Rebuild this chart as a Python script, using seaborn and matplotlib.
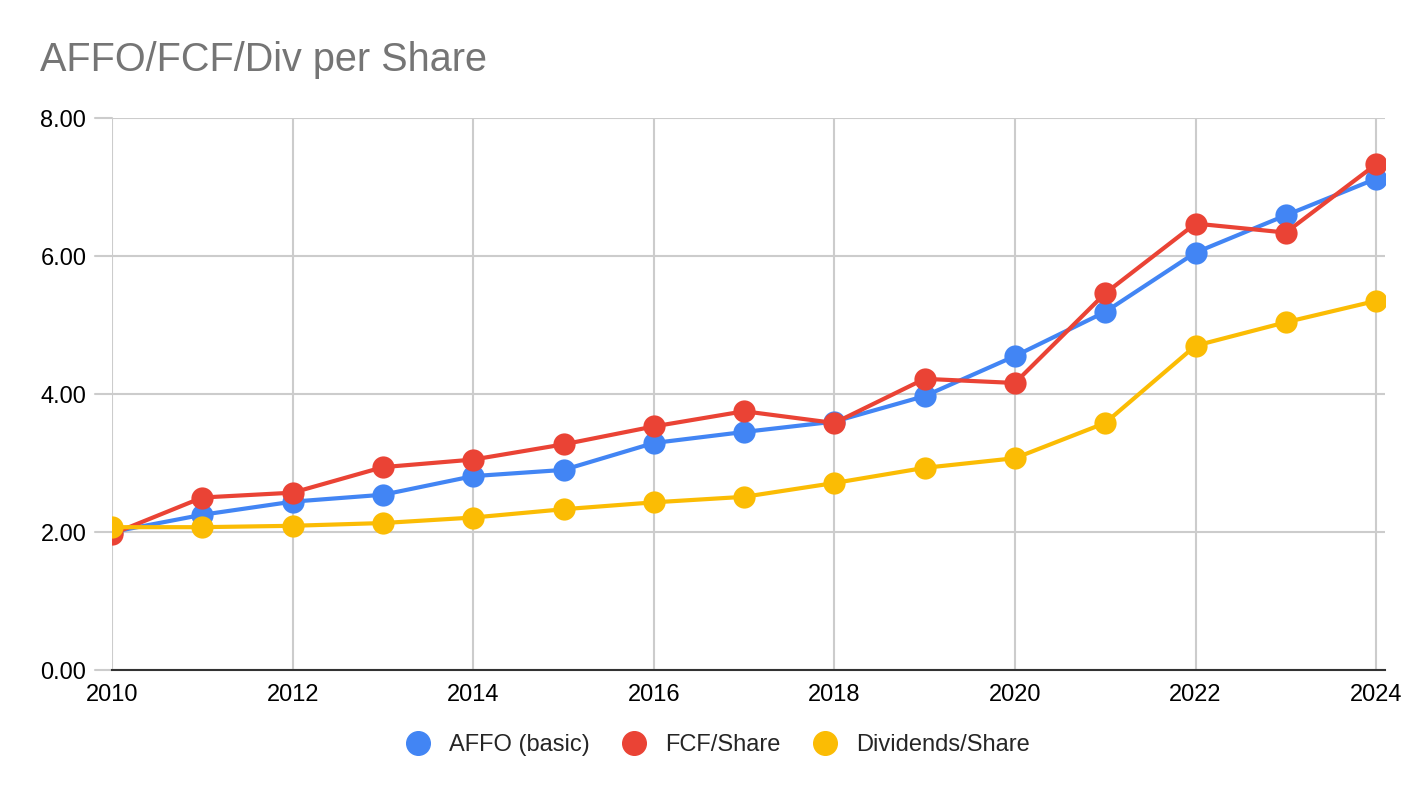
import pandas as pd
import numpy as np
import matplotlib.pyplot as plt
import seaborn as sns
from matplotlib.lines import Line2D

# valores
anos = list(range(2010, 2025))
affo = [2.00, 2.25, 2.44, 2.54, 2.81, 2.90, 3.29, 3.45, 3.60, 3.97, 4.55, 5.19, 6.05, 6.59, 7.12]
fcf = [1.97, 2.50, 2.57, 2.94, 3.05, 3.27, 3.53, 3.75, 3.58, 4.22, 4.16, 5.46, 6.47, 6.34, 7.33]
dividendos = [2.07, 2.07, 2.09, 2.13, 2.21, 2.33, 2.43, 2.51, 2.71, 2.93, 3.07, 3.58, 4.70, 5.04, 5.35]

series = ['AFFO (basic)', 'FCF/Share', 'Dividends/Share']
cores = ['#4285F4', '#EA4335', '#FBBC04']

df = pd.DataFrame({'Ano': anos, series[0]: affo, series[1]: fcf, series[2]: dividendos})
df_long = df.melt(id_vars='Ano', var_name='Serie', value_name='Valor')

sns.set_style('white')
plt.rcParams['font.family'] = ['Liberation Sans', 'DejaVu Sans']

fig = plt.figure(figsize=(14.24, 7.98), dpi=100)
ax = fig.add_axes([0.0787, 0.1604, 0.8940, 0.6917])

sns.lineplot(data=df_long, x='Ano', y='Valor', hue='Serie', hue_order=series,
             palette=cores, marker='o', markersize=16, markeredgewidth=0,
             linewidth=3, legend=False, ax=ax, zorder=3)

ax.set_xlim(2010, 2024.1)
ax.set_ylim(0, 8)
ax.set_xticks(range(2010, 2025, 2))
ax.set_yticks([0, 2, 4, 6, 8])
ax.set_yticklabels([f'{v:.2f}' for v in [0, 2, 4, 6, 8]])
ax.grid(True, color='#cccccc', linewidth=1.5)
ax.tick_params(axis='both', labelsize=17, length=0, colors='black')
ax.tick_params(axis='y', pad=18.5)
ax.tick_params(axis='x', pad=10)
for lado in ['top', 'right', 'left']:
    ax.spines[lado].set_visible(False)
ax.spines['bottom'].set_color('#333333')
ax.spines['bottom'].set_linewidth(1.5)
ax.set_xlabel('')
ax.set_ylabel('')

# traço da grade à esquerda do eixo
for v in [0, 2, 4, 6, 8]:
    ax.plot([2009.81, 2010], [v, v], color='#cccccc', linewidth=1.5, clip_on=False)

fig.text(0.028, 0.925, 'AFFO/FCF/Div per Share', fontsize=28.5, color='#757575', va='center')

handles = [Line2D([], [], marker='o', linestyle='', markersize=17, color=c) for c in cores]
fig.legend(handles, series, loc='center', bbox_to_anchor=(0.5, 0.066), ncol=3,
           frameon=False, fontsize=17, handletextpad=0.3, columnspacing=0.9)

plt.savefig('out.png', dpi=100)
